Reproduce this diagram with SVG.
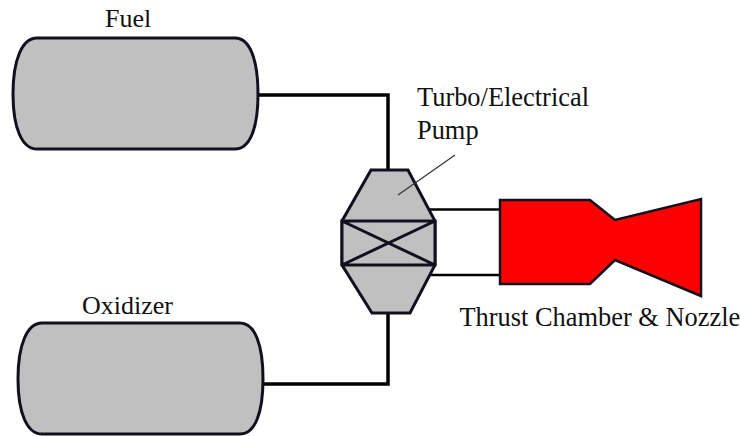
<svg xmlns="http://www.w3.org/2000/svg" width="741" height="436" viewBox="0 0 741 436">
<style>
.tank{fill:#c0c0c0;stroke:#10101e;stroke-width:3}
.pump{fill:#c0c0c0;stroke:#10101e;stroke-width:3;stroke-linejoin:miter}
.pipe{fill:none;stroke:#000;stroke-width:3.5}
.thin{fill:none;stroke:#000;stroke-width:2.5}
.lbl{font-family:"Liberation Serif","Times New Roman",serif;font-size:26px;fill:#111}
.lg{font-size:26.400px}
</style>
<rect width="741" height="436" fill="#fff"/>
<g id="connectors">
<path class="pipe" d="M258 95H388V171"/>
<path class="pipe" d="M388 312V384H263"/>
<path class="thin" d="M429 209.500H500"/>
<path class="thin" d="M431 275H500"/>
</g>
<g id="fuel-tank">
<path class="tank" d="M37 38H235C250 38 258 60 258 94C258 128 250 149 235 149H37C22 149 13 128 13 94C13 60 22 38 37 38Z"/>
<text class="lbl" x="105" y="27">Fuel</text>
</g>
<g id="oxidizer-tank">
<path class="tank" d="M42 323H240C255 323 263 345 263 379C263 413 255 434 240 434H42C27 434 18 413 18 379C18 345 27 323 42 323Z"/>
<text class="lbl" x="82" y="314">Oxidizer</text>
</g>
<g id="pump">
<path class="pump" d="M371 170H408L435 221V265L410 313H372L342 265V221Z"/>
<path class="pump" d="M342 221H435V265H342ZM342 265L435 221M342 221L435 265"/>
<path d="M455 155L398 195" fill="none" stroke="#333" stroke-width="1.200"/>
<text class="lbl lg" x="417" y="106">Turbo/Electrical</text>
<text class="lbl lg" x="417" y="139">Pump</text>
</g>
<g id="thrust-chamber">
<path d="M500 200H590L615 220L701 199V296L615 260L590 284H500Z" fill="#f00" stroke="#10101e" stroke-width="2.500"/>
<text class="lbl lg" x="459.500" y="325.500">Thrust Chamber &amp; Nozzle</text>
</g>
</svg>
